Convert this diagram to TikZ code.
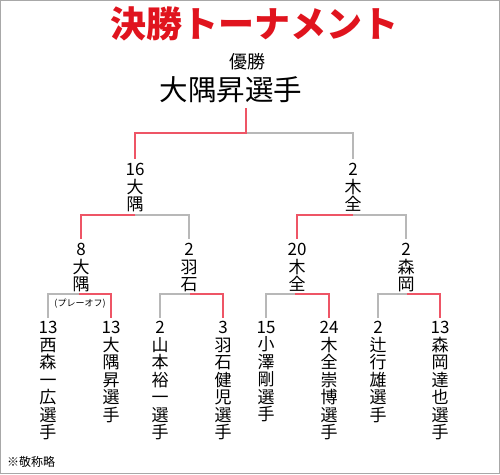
\documentclass[tikz,border=0pt]{standalone}
\usepackage{fontspec}
\setmainfont{Noto Sans CJK JP}
\definecolor{winred}{HTML}{EE5566}
\definecolor{loseg}{HTML}{B8B8B8}
\definecolor{titlered}{HTML}{E0141E}
\definecolor{frameg}{HTML}{A8A8A8}
\begin{document}
\begin{tikzpicture}[x=1pt,y=-1pt,
  win/.style={draw=winred,line width=1.1pt},
  lose/.style={draw=loseg,line width=1.1pt},
  lbl/.style={inner sep=0pt,align=center,anchor=north,font=\fontsize{17}{17.5}\selectfont},
  bot/.style={lbl},
  txt/.style={inner sep=0pt}]
\useasboundingbox (0,0) rectangle (500,474);
\draw[frameg,line width=1.2pt] (0.6,0.6) rectangle (499.4,473.4);
\node[txt,text=titlered,font=\fontsize{36}{36}\bfseries\selectfont] (title) at (254,24) {決勝トーナメント};
\node[txt,font=\fontsize{18}{18}\selectfont] (yusho) at (247,62) {優勝};
\node[txt,font=\fontsize{28.5}{28.5}\selectfont] (champ) at (231,90) {大隅昇選手};
% level coordinates
\coordinate (j0) at (246,133);
% level 1 nodes
\node[lbl] (qa) at (135,163) {16\\大\\隅};
\node[lbl] (qb) at (353,163) {2\\木\\全};
% level 2 nodes
\node[lbl] (sa) at (81,243) {8\\大\\隅};
\node[lbl] (sb) at (189,243) {2\\羽\\石};
\node[lbl] (sc) at (297,243) {20\\木\\全};
\node[lbl] (sd) at (406,243) {2\\森\\岡};
% bottom
\node[bot] (p1) at (48,321) {13\\西\\森\\一\\広\\選\\手};
\node[bot] (p2) at (111,321) {13\\大\\隅\\昇\\選\\手};
\node[bot] (p3) at (160,321) {2\\山\\本\\裕\\一\\選\\手};
\node[bot] (p4) at (223,321) {3\\羽\\石\\健\\児\\選\\手};
\node[bot] (p5) at (266,321) {15\\小\\澤\\剛\\選\\手};
\node[bot] (p6) at (329,321) {24\\木\\全\\崇\\博\\選\\手};
\node[bot] (p7) at (378,321) {2\\辻\\行\\雄\\選\\手};
\node[bot] (p8) at (440,321) {13\\森\\岡\\達\\也\\選\\手};
\node[txt,font=\fontsize{9}{9}\selectfont] (po) at (80,304) {(プレーオフ)};
\node[txt,anchor=west,font=\fontsize{12}{12}\selectfont] (note) at (7,462) {※敬称略};
% final
\coordinate (f0) at (246,108);
\draw[lose] (j0) -- (j0 -| qb) -- ([yshift=4pt]qb.north);
\draw[win] (f0) -- (j0) -- (j0 -| qa) -- ([yshift=4pt]qa.north);
% semi
\coordinate (ja) at (135,215);
\draw[lose] (ja) -- (ja -| sb) -- ([yshift=4pt]sb.north);
\draw[win] (ja) -- (ja -| sa) -- ([yshift=4pt]sa.north);
\coordinate (jb) at (353,215);
\draw[lose] (jb) -- (jb -| sd) -- ([yshift=4pt]sd.north);
\draw[win] (jb) -- (jb -| sc) -- ([yshift=4pt]sc.north);
% quarter
\coordinate (k1) at (79,294);
\draw[lose] (k1) -- (k1 -| p1) -- ([yshift=3pt]p1.north);
\draw[win] (k1) -- (k1 -| p2) -- ([yshift=3pt]p2.north);
\coordinate (k2) at (190,294);
\draw[lose] (k2) -- (k2 -| p3) -- ([yshift=3pt]p3.north);
\draw[win] (k2) -- (k2 -| p4) -- ([yshift=3pt]p4.north);
\coordinate (k3) at (295,294);
\draw[lose] (k3) -- (k3 -| p5) -- ([yshift=3pt]p5.north);
\draw[win] (k3) -- (k3 -| p6) -- ([yshift=3pt]p6.north);
\coordinate (k4) at (407,294);
\draw[lose] (k4) -- (k4 -| p7) -- ([yshift=3pt]p7.north);
\draw[win] (k4) -- (k4 -| p8) -- ([yshift=3pt]p8.north);
\end{tikzpicture}
\end{document}
